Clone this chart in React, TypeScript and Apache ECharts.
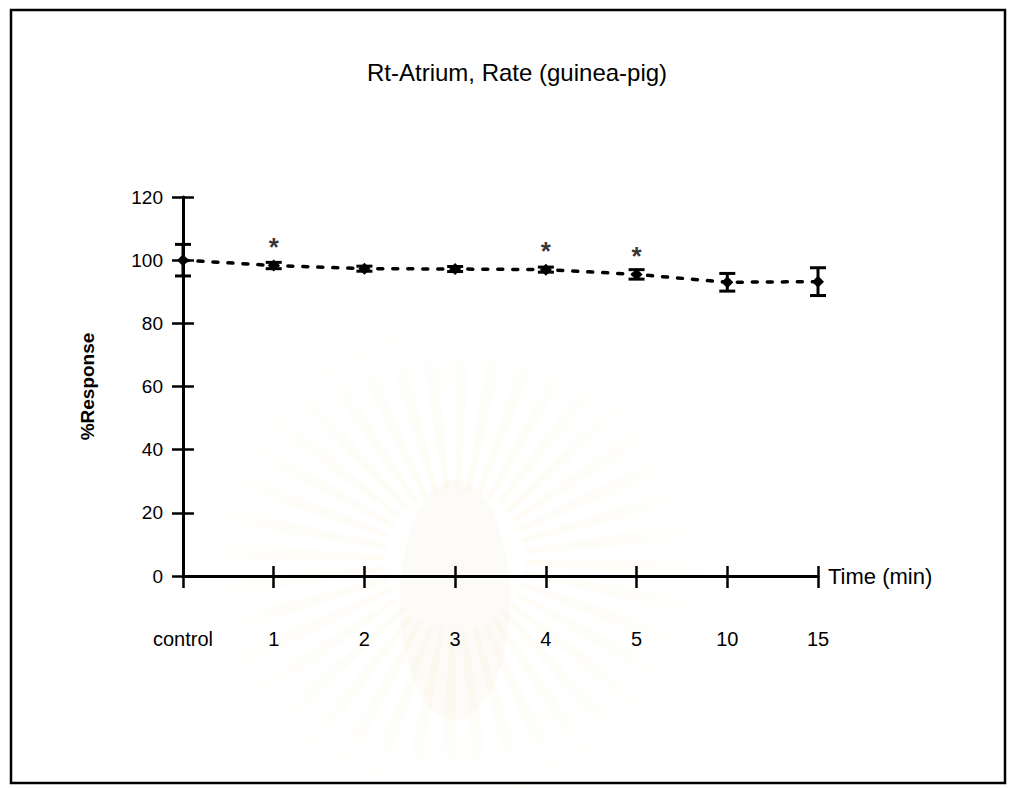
import React, { useEffect, useRef } from "react";
import * as echarts from "echarts";

// Time points after drug application (control = before)
const categories = ["control", "1", "2", "3", "4", "5", "10", "15"];
// Mean rate of the right atrium, % of control
const meanResponse = [100, 98.3, 97.3, 97.2, 97.0, 95.5, 93.0, 93.2];
// Standard error of the mean
const semResponse = [5, 1.0, 0.8, 0.8, 0.8, 1.5, 2.8, 4.4];
// Time points that differ significantly from control
const significantIdx = [1, 4, 5];

const yMin = 0;
const yMax = 120;
const yStep = 20;

const FONT = "'Liberation Sans', Arial, Helvetica, sans-serif";

// Faint sunburst watermark printed behind the plot
function sunburst(cx: number, cy: number) {
  const rays: any[] = [];
  const count = 40;
  const fade = {
    type: "radial",
    x: cx,
    y: cy,
    r: 250,
    global: true,
    colorStops: [
      { offset: 0, color: "rgba(246, 232, 178, 0.16)" },
      { offset: 0.6, color: "rgba(246, 232, 178, 0.10)" },
      { offset: 1, color: "rgba(246, 232, 178, 0)" },
    ],
  };
  for (let k = 0; k < count; k++) {
    const a = (k * 2 * Math.PI) / count;
    rays.push({
      type: "sector",
      shape: { cx, cy, r0: 70, r: 250, startAngle: a, endAngle: a + 0.07 },
      style: { fill: fade },
      silent: true,
    });
  }
  rays.push({
    type: "ellipse",
    shape: { cx, cy: cy + 40, rx: 55, ry: 120 },
    style: { fill: "rgba(236, 226, 196, 0.12)" },
    silent: true,
  });
  return { type: "group", z: -10, silent: true, children: rays };
}

export default function App() {
  const ref = useRef<HTMLDivElement>(null);

  useEffect(() => {
    if (!ref.current) return;
    const chart = echarts.init(ref.current, undefined, { renderer: "svg" });

    const errorData = categories.map((_, i) => [
      i,
      meanResponse[i] - semResponse[i],
      meanResponse[i] + semResponse[i],
    ]);

    const option: any = {
      animation: false,
      backgroundColor: "#ffffff",
      textStyle: { fontFamily: FONT, color: "#000" },
      title: {
        text: "Rt-Atrium, Rate (guinea-pig)",
        left: 362,
        top: 55,
        textStyle: { fontFamily: FONT, fontSize: 24, fontWeight: "normal", color: "#000" },
      },
      grid: { left: 183, right: 191, top: 197, bottom: 212, containLabel: false },
      xAxis: [
        {
          type: "category",
          data: categories,
          boundaryGap: false,
          name: "Time (min)",
          nameLocation: "end",
          nameGap: 10,
          nameTextStyle: { fontFamily: FONT, fontSize: 22, color: "#000", verticalAlign: "middle" },
          axisLine: { show: true, lineStyle: { color: "#000", width: 3 } },
          axisTick: { show: true, inside: false, length: 12, lineStyle: { color: "#000", width: 2.5 } },
          axisLabel: { show: true, margin: 53, fontFamily: FONT, fontSize: 20, color: "#000" },
          splitLine: { show: false },
        },
        {
          type: "category",
          data: categories,
          boundaryGap: false,
          position: "bottom",
          axisLine: { show: false },
          axisTick: { show: true, inside: true, length: 10, lineStyle: { color: "#000", width: 2.5 } },
          axisLabel: { show: false },
          splitLine: { show: false },
        },
      ],
      yAxis: [
        {
          type: "value",
          min: yMin,
          max: yMax,
          interval: yStep,
          name: "%Response",
          nameLocation: "middle",
          nameGap: 86,
          nameRotate: 90,
          nameTextStyle: { fontFamily: FONT, fontSize: 19, fontWeight: "bold", color: "#000" },
          axisLine: { show: true, lineStyle: { color: "#000", width: 3 } },
          axisTick: { show: true, inside: false, length: 11, lineStyle: { color: "#000", width: 2.5 } },
          axisLabel: { show: true, margin: 20, fontFamily: FONT, fontSize: 19, color: "#000" },
          splitLine: { show: false },
        },
        {
          type: "value",
          min: yMin,
          max: yMax,
          interval: yStep,
          position: "left",
          axisLine: { show: false },
          axisTick: { show: true, inside: true, length: 11, lineStyle: { color: "#000", width: 2.5 } },
          axisLabel: { show: false },
          splitLine: { show: false },
        },
      ],
      graphic: [
        sunburst(455, 560),
        {
          type: "rect",
          shape: { x: 11, y: 10, width: 994, height: 773 },
          style: { fill: "none", stroke: "#000", lineWidth: 2.5 },
          silent: true,
        },
      ],
      series: [
        {
          type: "custom",
          name: "SEM",
          xAxisIndex: 0,
          yAxisIndex: 0,
          data: errorData,
          encode: { x: 0, y: [1, 2] },
          z: 3,
          renderItem: (params: any, api: any) => {
            const idx = api.value(0);
            const lo = api.coord([idx, api.value(1)]);
            const hi = api.coord([idx, api.value(2)]);
            const half = 8;
            const style = { stroke: "#000", lineWidth: 3, fill: "none" };
            return {
              type: "group",
              children: [
                { type: "line", shape: { x1: lo[0], y1: lo[1], x2: hi[0], y2: hi[1] }, style },
                { type: "line", shape: { x1: hi[0] - half, y1: hi[1], x2: hi[0] + half, y2: hi[1] }, style },
                { type: "line", shape: { x1: lo[0] - half, y1: lo[1], x2: lo[0] + half, y2: lo[1] }, style },
              ],
            };
          },
        },
        {
          type: "line",
          name: "Rate",
          xAxisIndex: 0,
          yAxisIndex: 0,
          data: meanResponse,
          symbol: "diamond",
          symbolSize: 12,
          z: 4,
          itemStyle: { color: "#000" },
          lineStyle: { color: "#000", width: 3.5, type: [5, 10], cap: "round" },
        },
        {
          type: "scatter",
          name: "significant",
          xAxisIndex: 0,
          yAxisIndex: 0,
          data: significantIdx.map((i) => [i, meanResponse[i]]),
          symbol: "circle",
          symbolSize: 1,
          itemStyle: { color: "rgba(0,0,0,0)" },
          z: 5,
          label: {
            show: true,
            formatter: "*",
            position: "top",
            distance: 5,
            fontFamily: FONT,
            fontSize: 26,
            fontWeight: "bold",
            color: "#000",
          },
        },
      ],
    };

    chart.setOption(option);
    return () => chart.dispose();
  }, []);

  return (
    <div
      ref={ref}
      style={{ position: "fixed", left: 0, top: 0, width: 1009, height: 788, background: "#fff" }}
    />
  );
}
